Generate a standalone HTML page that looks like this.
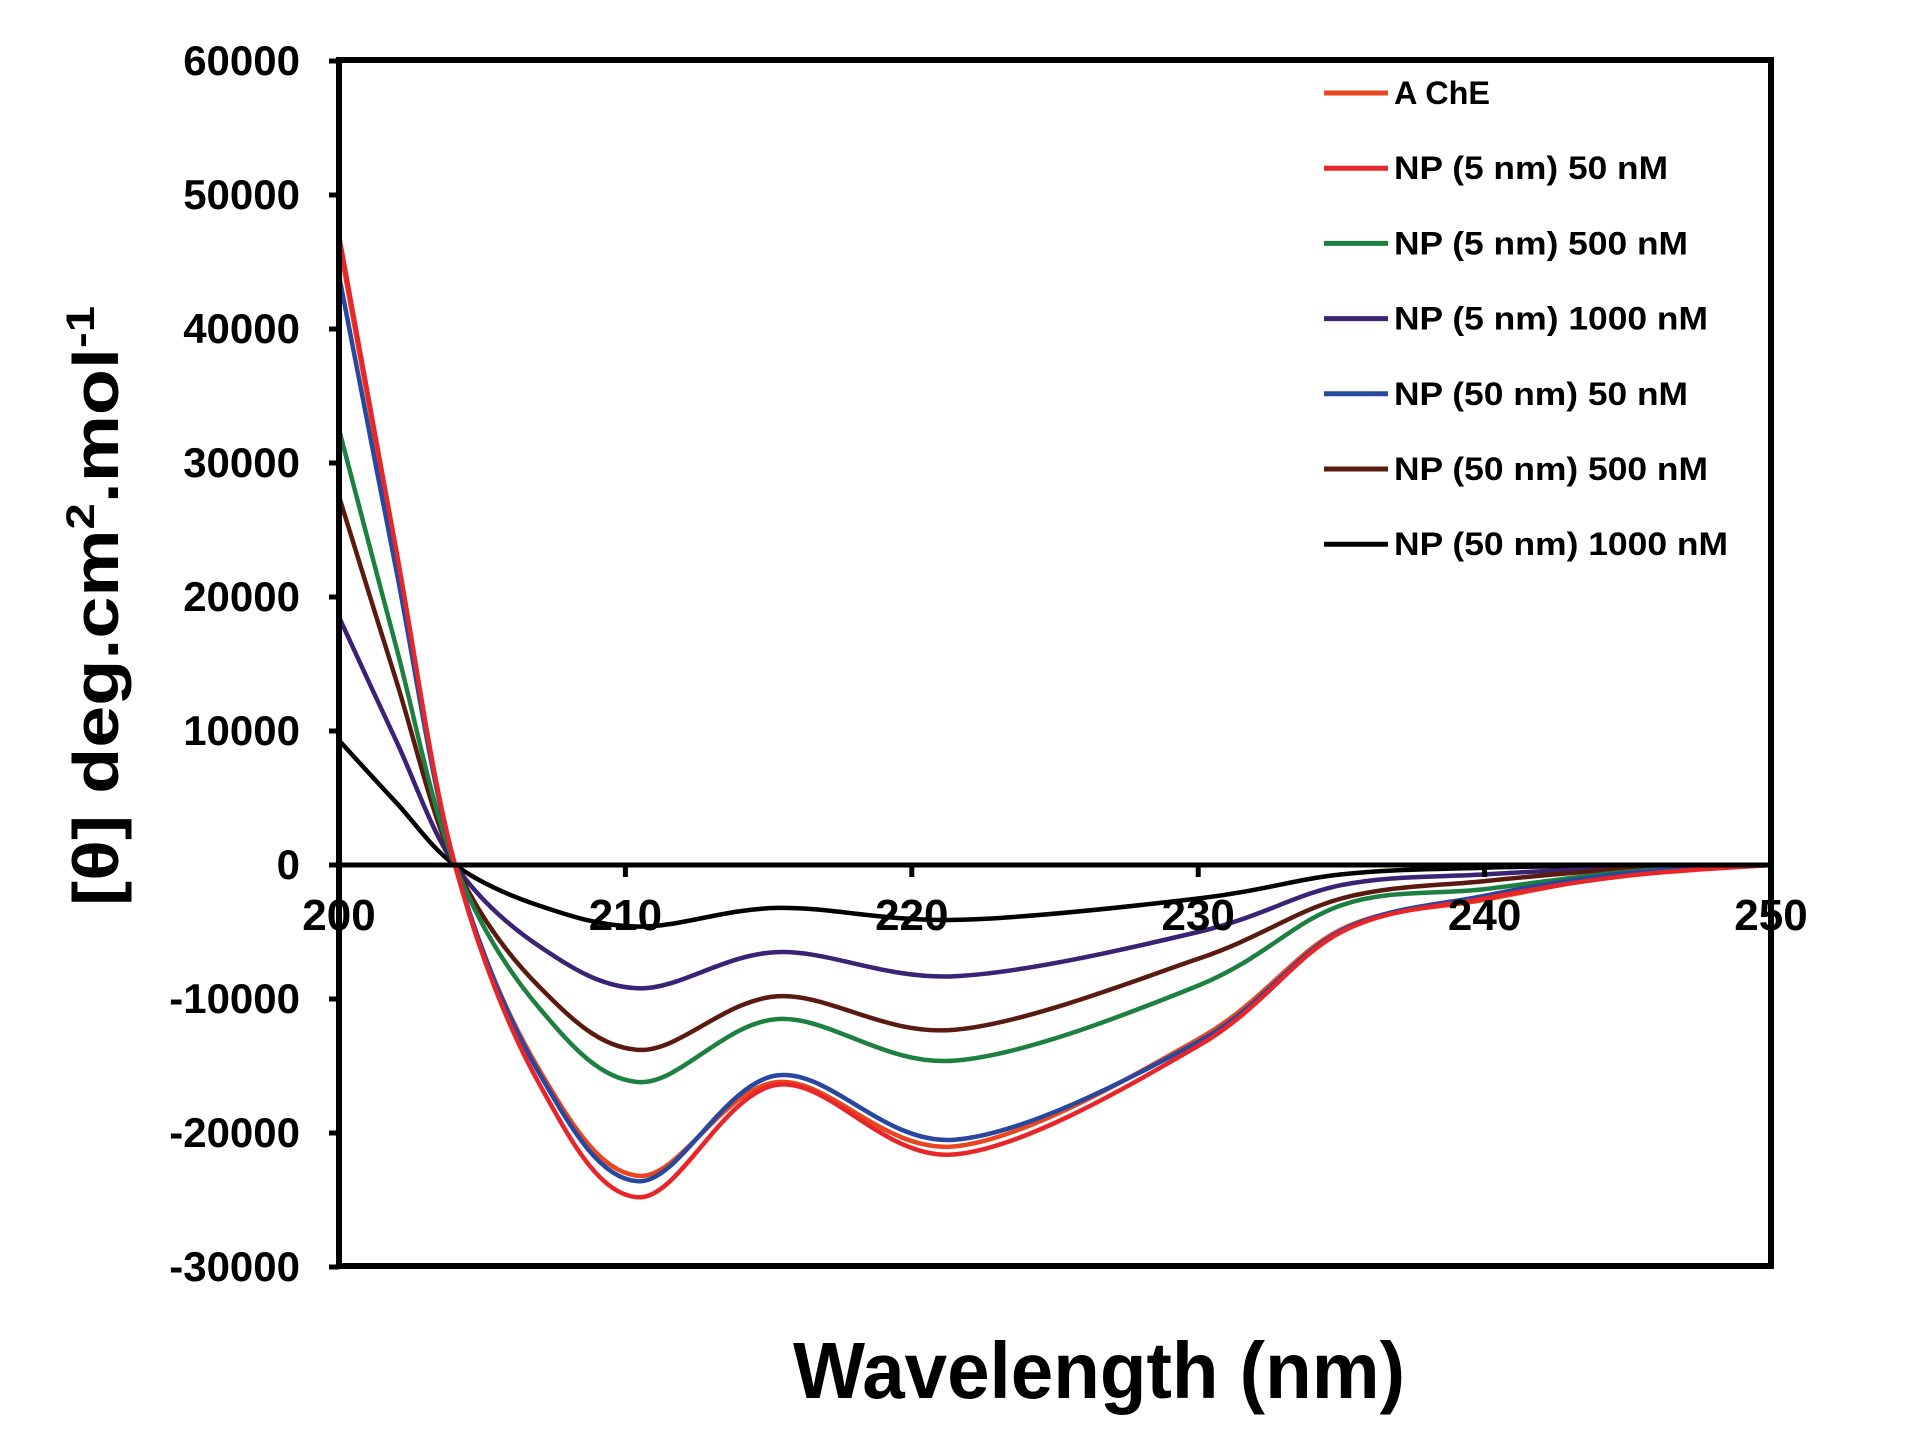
<!DOCTYPE html>
<html><head><meta charset="utf-8"><style>html,body{margin:0;padding:0;background:#fff}svg{display:block}</style></head>
<body>
<svg id="s" width="1919" height="1438" viewBox="0 0 1919 1438" xmlns="http://www.w3.org/2000/svg" font-family="Liberation Sans, Arial, sans-serif" font-weight="bold">
<rect width="1919" height="1438" fill="#fff"/>
<g id="curves" fill="none" stroke-width="4.5" stroke-linejoin="round"></g>
<line x1="330" y1="865" x2="1771" y2="865" stroke="#000" stroke-width="5"/>
<rect x="339" y="60" width="1432" height="1206" fill="none" stroke="#000" stroke-width="6"/>
<g id="ticks" stroke="#000" stroke-width="5"></g>
<g id="ylab" font-size="42" text-anchor="end"></g>
<g id="xlab" font-size="44" text-anchor="middle"></g>
<g id="leg" font-size="32"></g>
<text x="1099" y="1398" font-size="80" text-anchor="middle" textLength="612" lengthAdjust="spacingAndGlyphs">Wavelength (nm)</text>
<text transform="translate(118,606) rotate(-90)" font-size="64" text-anchor="middle" textLength="600" lengthAdjust="spacingAndGlyphs">[θ] deg.cm<tspan font-size="40" dy="-24">2</tspan><tspan dy="24">.mol</tspan><tspan font-size="40" dy="-24">-1</tspan></text>
</svg>
<script>
var NS="http://www.w3.org/2000/svg";
function X(w){return 339+(w-200)*28.64;}
function Y(v){return 865-v*0.0134;}
function el(p,t,a,txt){var e=document.createElementNS(NS,t);for(var k in a)e.setAttribute(k,a[k]);if(txt)e.textContent=txt;document.getElementById(p).appendChild(e);return e;}
for(var i=0;i<=9;i++){var v=60000-i*10000,y=Y(v);el("ticks","line",{x1:329,y1:y,x2:339,y2:y});el("ylab","text",{x:300,y:y+14},String(v));}
for(var w=200;w<=250;w+=10){var x=X(w);el("ticks","line",{x1:x,y1:865,x2:x,y2:877});el("xlab","text",{x:x,y:930},String(w));}
var S=[
 ["#e8461e",46500,-23200,-16200,-21000,-13000,-4800,-2600,-700],
 ["#e8262a",47000,-24800,-16400,-21600,-13500,-5000,-2500,-800],
 ["#1e8040",32500,-16200,-11500,-14600,-9000,-3000,-1800,-500],
 ["#3a2275",18500,-9200,-6500,-8300,-5000,-1500,-700,-200],
 ["#2848a0",44000,-23600,-15700,-20500,-13200,-4900,-2300,-600],
 ["#5a1a10",27500,-13800,-9800,-12300,-7000,-2500,-1200,-300],
 ["#000000",9300,-4600,-3200,-4100,-2500,-700,-200,-50]];
function path(pts){var d="M"+pts[0][0]+","+pts[0][1];for(var i=0;i<pts.length-1;i++){var p0=pts[i-1]||pts[i],p1=pts[i],p2=pts[i+1],p3=pts[i+2]||p2;var c1x=p1[0]+(p2[0]-p0[0])/6,c1y=p1[1]+(p2[1]-p0[1])/6,c2x=p2[0]-(p3[0]-p1[0])/6,c2y=p2[1]-(p3[1]-p1[1])/6;d+="C"+c1x.toFixed(1)+","+c1y.toFixed(1)+" "+c2x.toFixed(1)+","+c2y.toFixed(1)+" "+p2[0].toFixed(1)+","+p2[1].toFixed(1);}return d;}
var order=[6,3,5,2,0,4,1];
order.forEach(function(k){var s=S[k],a=s[1],m1=s[2],p=s[3],m2=s[4];
 var data=[[200,a],[202,a*0.5],[204.05,0],[207,m1*0.66],[210.5,m1],[215.3,p],[221.5,m2],[230,s[5]],[235,s[6]],[240,s[7]],[245,s[8]],[250,0]];
 var pts=data.map(function(q){return [X(q[0]),Y(q[1])];});
 el("curves","path",{d:path(pts),stroke:s[0]});});
var names=["A ChE","NP (5 nm) 50 nM","NP (5 nm) 500 nM","NP (5 nm) 1000 nM","NP (50 nm) 50 nM","NP (50 nm) 500 nM","NP (50 nm) 1000 nM"];
var lw=[96,274,294,314,294,314,334];
for(var i=0;i<7;i++){var y=93+i*75.2;el("leg","line",{x1:1324,y1:y,x2:1388,y2:y,stroke:S[i][0],"stroke-width":5});el("leg","text",{x:1394,y:y+11,textLength:lw[i],lengthAdjust:"spacingAndGlyphs"},names[i]);}
</script>
</body></html>
